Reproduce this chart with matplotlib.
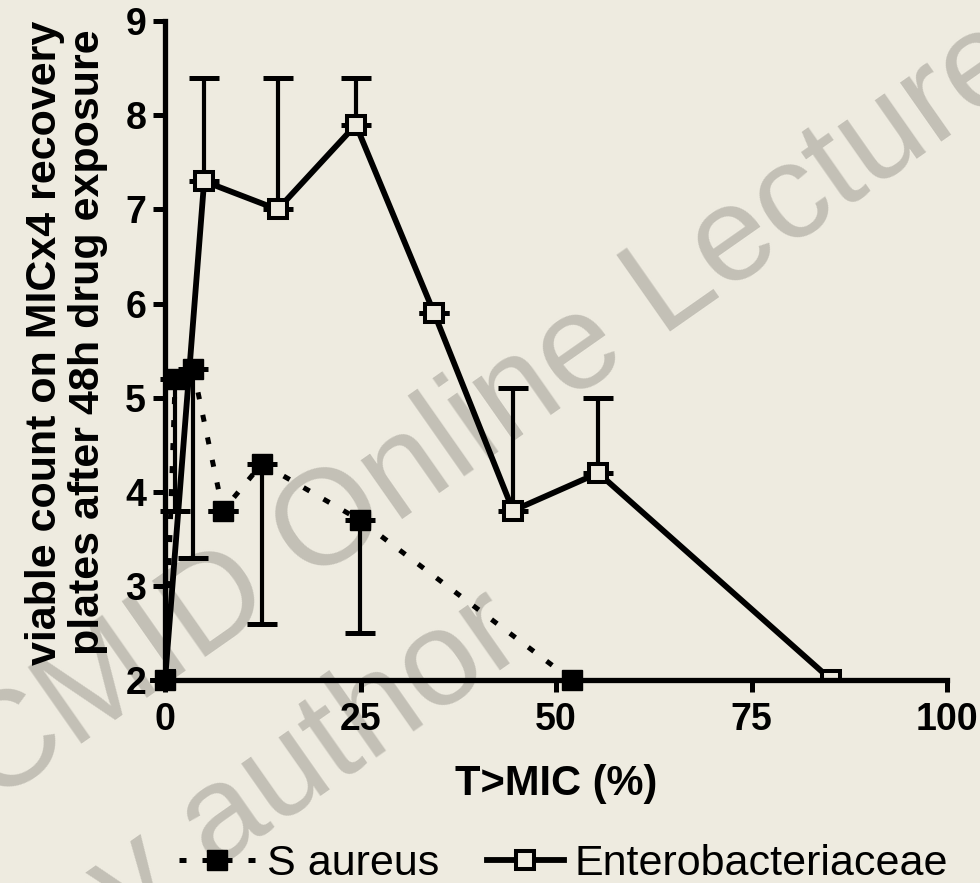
import matplotlib
matplotlib.use("Agg")
import matplotlib.pyplot as plt

# data
s_x = [0, 1.3, 3.6, 7.4, 12.4, 24.9, 52.0]
s_y = [2.0, 5.2, 5.3, 3.8, 4.3, 3.7, 2.0]
s_err_lo = [0, 1.4, 2.0, 0, 1.7, 1.2, 0]

e_x = [0, 5.0, 14.4, 24.4, 34.4, 44.5, 55.4, 85.2]
e_y = [2.0, 7.3, 7.0, 7.9, 5.9, 3.8, 4.2, 2.0]
e_err_hi = [0, 1.1, 1.4, 0.5, 0, 1.3, 0.8, 0]

x_ticks = [0, 25, 50, 75, 100]
y_ticks = [2, 3, 4, 5, 6, 7, 8, 9]

bg = '#EEEBE0'
wm = '#C3C0B6'
plt.rcParams['font.family'] = ['Liberation Sans', 'DejaVu Sans']

fig = plt.figure(figsize=(9.8, 8.83), dpi=100, facecolor=bg)

# watermark
fig.text(-0.008, 0.087, 'CMID Online Lecture', fontsize=98, color=wm,
         rotation=35, rotation_mode='anchor', ha='left', va='baseline', zorder=0)
fig.text(0.066, -0.104, 'by author', fontsize=98, color=wm,
         rotation=35, rotation_mode='anchor', ha='left', va='baseline', zorder=0)

ax = fig.add_axes([0.1684, 0.2299, 0.798, 0.746])
ax.set_facecolor('none')
ax.set_zorder(1)

# error bars (one-sided, as in the original)
ax.errorbar(s_x, s_y, yerr=[s_err_lo, [0] * len(s_x)], fmt='none', ecolor='black',
            elinewidth=3, capsize=11, capthick=3.6, clip_on=False, zorder=2)
ax.errorbar(e_x, e_y, yerr=[[0] * len(e_x), e_err_hi], fmt='none', ecolor='black',
            elinewidth=3, capsize=11, capthick=3.6, clip_on=False, zorder=2)

e_line, = ax.plot(e_x, e_y, color='black', lw=4.2, linestyle='-',
                  marker='s', markersize=13, markerfacecolor=bg,
                  markeredgecolor='black', markeredgewidth=2.9,
                  zorder=3, label='Enterobacteriaceae')
s_line, = ax.plot(s_x, s_y, color='black', lw=3.6, linestyle=(0, (1.4, 3.2)),
                  dash_capstyle='butt', marker='s', markersize=14.4,
                  markerfacecolor='black', markeredgecolor='black',
                  clip_on=False, zorder=6, label='S aureus')

ax.set_xlim(0, 100)
ax.set_ylim(2, 9)
ax.set_xticks(x_ticks)
ax.set_yticks(y_ticks)
for sp in ['top', 'right']:
    ax.spines[sp].set_visible(False)
for sp in ['left', 'bottom']:
    ax.spines[sp].set_linewidth(3.8)
    ax.spines[sp].set_zorder(5)
ax.tick_params(axis='both', direction='out', length=8.6, width=3.6, labelsize=27)
ax.tick_params(axis='x', pad=7)
ax.tick_params(axis='y', pad=5)
for lab in ax.get_xticklabels() + ax.get_yticklabels():
    lab.set_fontweight('bold')

fig.text(0.568, 1 - 795 / 883, 'T>MIC (%)', fontsize=30, fontweight='bold',
         ha='center', va='baseline')
fig.text(0.068, 0.612, 'viable count on MICx4 recovery\nplates after 48h drug exposure',
         fontsize=31, fontweight='bold', rotation=90, ha='center', va='center',
         multialignment='center', linespacing=1.08)

fig.legend(handles=[s_line, e_line], loc='center', bbox_to_anchor=(0.575, 0.022),
           ncol=2, frameon=False, fontsize=31, handlelength=1.8,
           handletextpad=0.25, columnspacing=1.1, numpoints=1)

fig.savefig('out.png', dpi=100, facecolor=bg)
